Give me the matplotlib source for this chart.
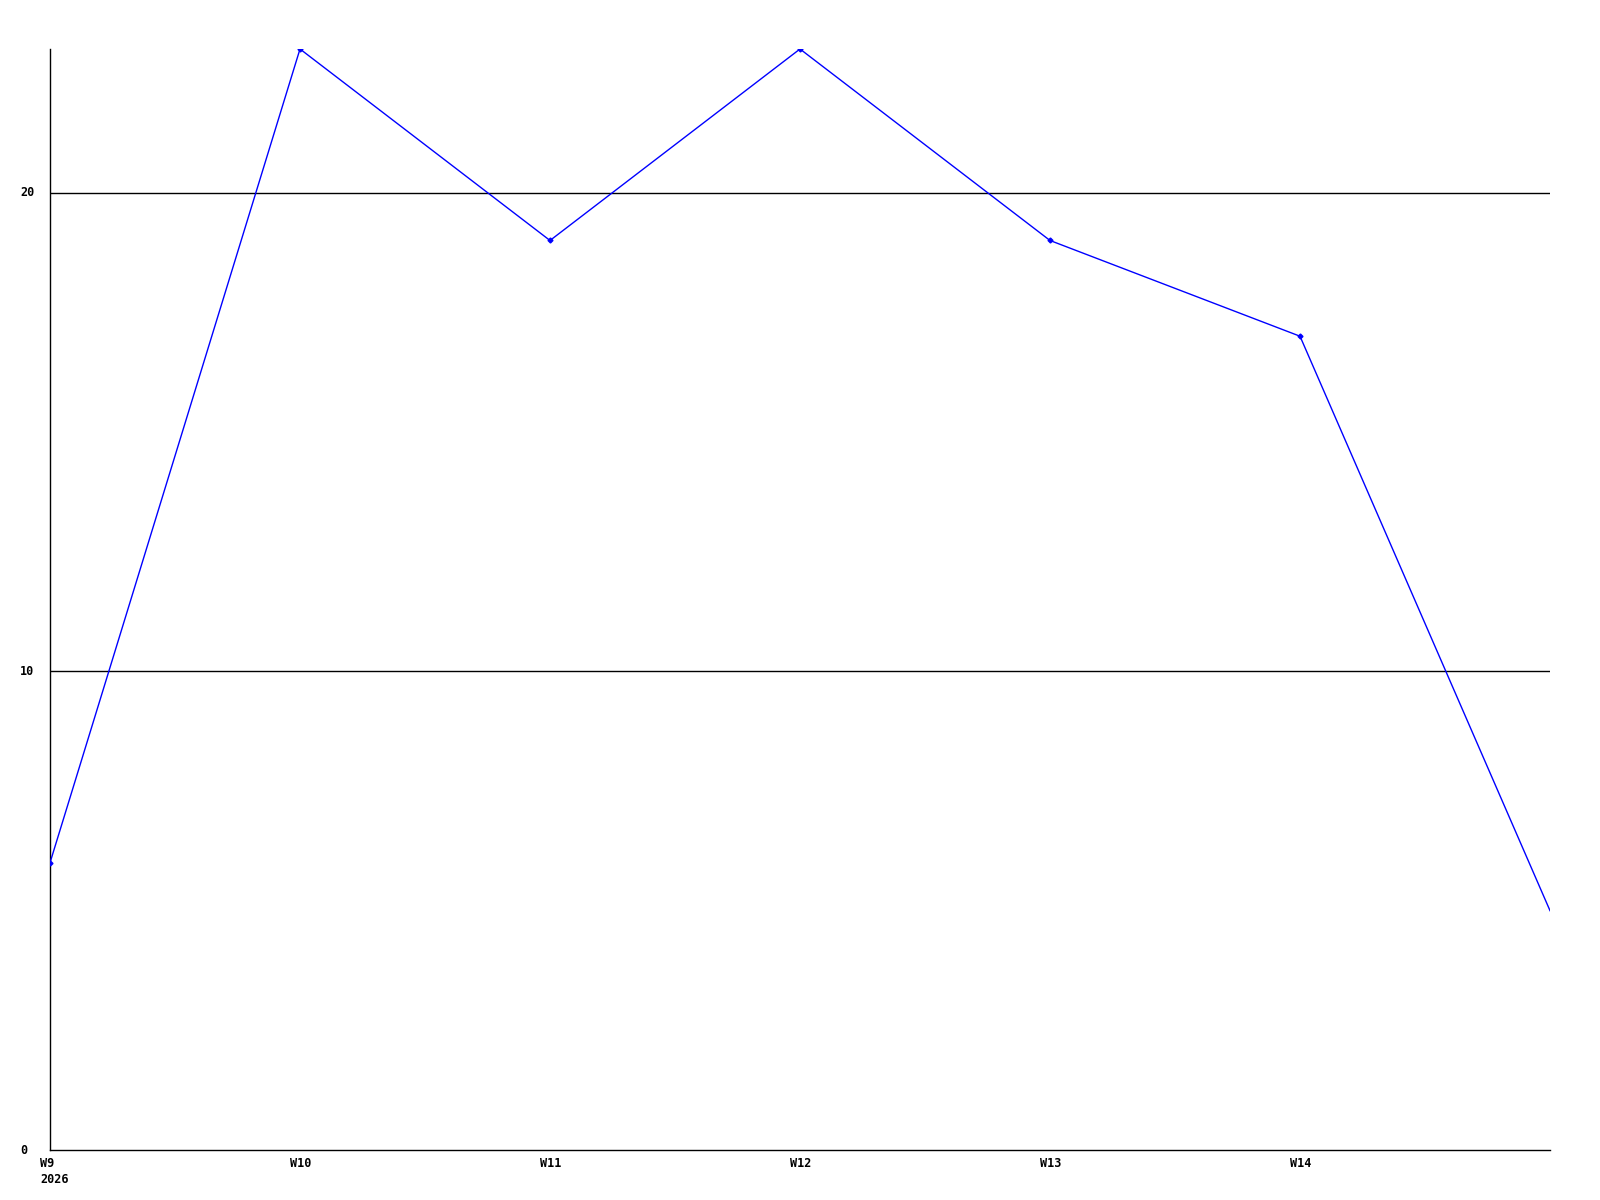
import matplotlib
matplotlib.use("Agg")
import matplotlib.pyplot as plt
import matplotlib.transforms as mtransforms

weeks = ["W9", "W10", "W11", "W12", "W13", "W14", ""]
values = [6, 23, 19, 23, 19, 17, 5]
year_label = "2026"
y_ticks = [0, 10, 20]

DPI = 100
fig = plt.figure(figsize=(16, 12), dpi=DPI)
W, H = 1600, 1200
ax = fig.add_axes([50 / W, 1 - 1150 / H, 1500 / W, (1150 - 49) / H])

x = list(range(len(values)))
ax.plot(x, values, color="#0000ff", linewidth=1.0, marker="D", markersize=2.5,
        markevery=list(range(len(values) - 1)), markerfacecolor="#0000ff",
        markeredgecolor="#0000ff", zorder=3)

ax.set_xlim(0, len(values) - 1)
ax.set_ylim(0, 23)

for s in ["top", "right"]:
    ax.spines[s].set_visible(False)
for s in ["left", "bottom"]:
    ax.spines[s].set_color("black")
    ax.spines[s].set_linewidth(1.0)

ax.set_xticks([])
ax.set_yticks([])

for yv in y_ticks:
    if yv > 0:
        ax.axhline(yv, color="black", linewidth=1.0, zorder=1)

font = dict(family="DejaVu Sans Mono", fontweight="bold", fontsize=8.5, color="black")

# y labels (left-aligned, 30px left of the axis)
ytrans = mtransforms.blended_transform_factory(ax.transAxes, ax.transData) + \
    mtransforms.ScaledTranslation(-30 / DPI, 0, fig.dpi_scale_trans)
for yv in y_ticks:
    ax.text(0, yv, str(yv), transform=ytrans, ha="left", va="center", **font)

# x labels
xtrans = mtransforms.blended_transform_factory(ax.transData, ax.transAxes) + \
    mtransforms.ScaledTranslation(-10 / DPI, -7 / DPI, fig.dpi_scale_trans)
for i, lab in enumerate(weeks):
    if lab:
        ax.text(i, 0, lab, transform=xtrans, ha="left", va="top", **font)
ytrans2 = mtransforms.blended_transform_factory(ax.transData, ax.transAxes) + \
    mtransforms.ScaledTranslation(-10 / DPI, -23 / DPI, fig.dpi_scale_trans)
ax.text(0, 0, year_label, transform=ytrans2, ha="left", va="top", **font)

fig.savefig("out.png", dpi=DPI, facecolor="white")
